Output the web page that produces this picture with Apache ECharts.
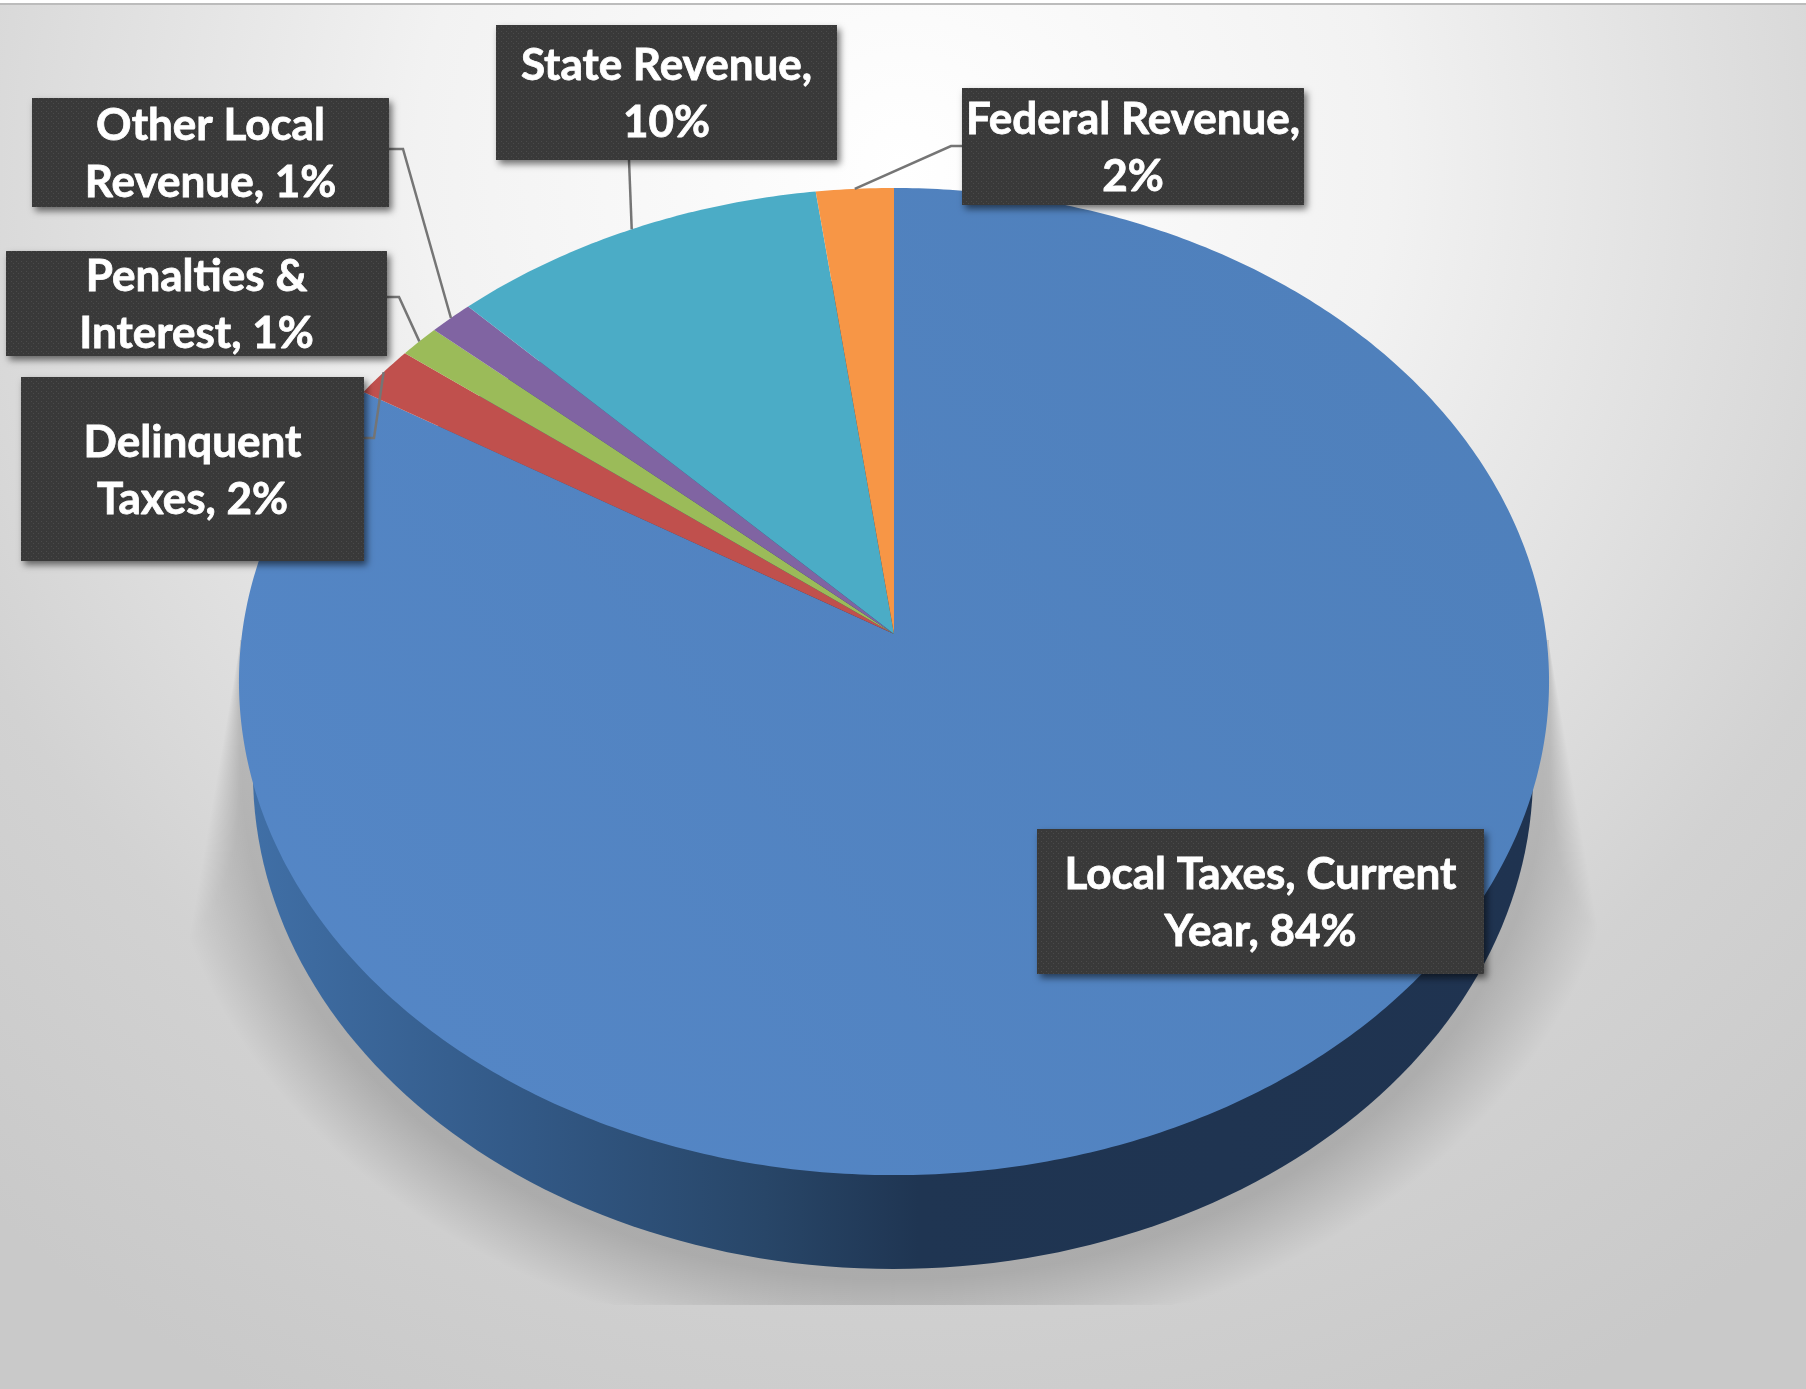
<!DOCTYPE html>
<html>
<head>
<meta charset="utf-8">
<title>Revenue by source</title>
<script src="https://cdn.jsdelivr.net/npm/echarts@6/dist/echarts.min.js"></script>
<style>
  html, body { margin: 0; padding: 0; background: #fff; }
  #chart { width: 1806px; height: 1389px; }
</style>
</head>
<body>
<div id="chart"></div>
<script>
// clockwise from 12 o'clock
const categories = ['Local Taxes, Current Year', 'Delinquent Taxes', 'Penalties & Interest', 'Other Local Revenue', 'State Revenue', 'Federal Revenue']
const shares = [83.7, 1.7, 1.1, 1.2, 10.2, 2.1]
const sliceColors = ['#5082c0', '#c0504d', '#9bbb59', '#8064a2', '#4bacc6', '#f79646']
const firstLineWords = [3, 1, 2, 2, 2, 2]

// label boxes [left, top, right, bottom], then leader elbows
const labelBoxes = [
  [1037, 829, 1484, 974],
  [21, 377, 364, 561],
  [6, 251, 387, 356],
  [32, 98, 389, 207],
  [496, 25, 837, 160],
  [962, 88, 1304, 205],
]
const leaderElbows = [
  null,
  [[364, 438], [374, 438]],
  [[387, 297], [399, 297]],
  [[389, 149], [403, 149]],
  [[629, 160]],
  [[962, 146], [951, 146]],
]

// perspective of the pie top: apex, half axes and tilt
const apexX = 894
const apexY = 634
const axisX = 652
const axisY = 489
const tilt = 0.0963
const total = shares.reduce((a, b) => a + b, 0)

function project(share) {
  const t = (share / total) * Math.PI * 2
  const d = 1 + tilt * Math.cos(t)
  return [apexX + (axisX * Math.sin(t)) / d, apexY - (axisY * Math.cos(t)) / d]
}

// going clockwise
function cumulativeBefore(i) {
  let c = 0
  for (let k = 0; k < i; k++) c += shares[k]
  return c
}

function slicePoints(from, to) {
  const pts = [[apexX, apexY]]
  const n = Math.max(4, Math.ceil((to - from) * 6))
  for (let j = 0; j <= n; j++) pts.push(project(from + ((to - from) * j) / n))
  return pts
}

function ellipsePoints(cx, cy, rx, ry, limit) {
  const pts = []
  for (let j = 0; j < 240; j++) {
    const t = (j / 240) * Math.PI * 2
    pts.push(limit([cx + rx * Math.cos(t), cy + ry * Math.sin(t)]))
  }
  return pts
}

// thickness of the pie: the lower rim, seen mostly under the top face
const rimX = 893
const rimY = 774
const rimRx = 640
const rimRy = 495
const floorEdge = 1305

function renderShadow() {
  const children = []
  const layers = 36
  for (let l = layers; l >= 0; l--) {
    const t = l / layers
    const d = 12 + t * 72
    const limit = (p) => {
      const drop = Math.max(0, p[1] - 640) * 0.17 * t
      const x = Math.min(Math.max(p[0], 240 - drop), 1549 + drop)
      return [x, Math.max(Math.min(p[1], floorEdge), 640)]
    }
    children.push({
      type: 'polygon',
      shape: { points: ellipsePoints(rimX, rimY, rimRx + d + 10 * t, rimRy + d, limit) },
      style: { fill: 'rgba(0,0,0,0.0056)' },
    })
  }
  return { type: 'group', children }
}

function renderSlice(params, api) {
  const i = params.dataIndex
  const from = cumulativeBefore(i)
  const to = from + api.value(1)
  const children = []
  if (i === 0) {
    children.push({
      type: 'polygon',
      shape: { points: ellipsePoints(rimX, rimY, rimRx, rimRy, (p) => p) },
      style: {
        fill: {
          type: 'linear', x: 0, y: 0, x2: 1, y2: 0,
          colorStops: [
            { offset: 0, color: '#406fa6' },
            { offset: 0.2, color: '#335a88' },
            { offset: 0.4, color: '#284668' },
            { offset: 0.52, color: '#1f3552' },
            { offset: 1, color: '#1f3350' },
          ],
        },
      },
    })
  }
  children.push({
    type: 'polygon',
    shape: { points: slicePoints(from, to) },
    style: {
      fill: i === 0
        ? {
            type: 'linear', x: 0, y: 1, x2: 1, y2: 0,
            colorStops: [
              { offset: 0, color: '#5587c7' },
              { offset: 1, color: '#4e7fba' },
            ],
          }
        : api.visual('color'),
    },
  })
  return { type: 'group', children }
}

function labelText(i) {
  const words = (categories[i] + ', ' + Math.round(shares[i]) + '%').split(' ')
  const n = firstLineWords[i]
  return words.slice(0, n).join(' ') + '\n' + words.slice(n).join(' ')
}

const dotTile = document.createElement('canvas')
dotTile.width = 5
dotTile.height = 5
const tileCtx = dotTile.getContext('2d')
tileCtx.fillStyle = '#393939'
tileCtx.fillRect(0, 0, 5, 5)
tileCtx.fillStyle = '#4a4a4a'
tileCtx.fillRect(1, 1, 1, 1)
tileCtx.fillRect(3, 3, 1, 1)

function renderLabel(params, api) {
  const i = params.dataIndex
  const box = labelBoxes[i]
  const children = []
  if (leaderElbows[i]) {
    const anchor = project(cumulativeBefore(i) + api.value(1) / 2)
    children.push({
      type: 'polyline',
      shape: { points: leaderElbows[i].concat([anchor]) },
      style: { fill: null, stroke: '#757575', lineWidth: 2.5 },
    })
  }
  children.push({
    type: 'rect',
    shape: { x: box[0], y: box[1], width: box[2] - box[0], height: box[3] - box[1] },
    style: {
      fill: { image: dotTile, repeat: 'repeat' },
      shadowBlur: 7,
      shadowColor: 'rgba(0,0,0,0.55)',
      shadowOffsetX: 3,
      shadowOffsetY: 4,
    },
  })
  children.push({
    type: 'text',
    style: {
      x: (box[0] + box[2]) / 2,
      y: (box[1] + box[3]) / 2 + 2,
      text: labelText(i),
      align: 'center',
      verticalAlign: 'middle',
      fill: '#fff',
      stroke: '#fff',
      lineWidth: 0.8,
      fontFamily: 'Lato, "Open Sans", sans-serif',
      fontWeight: 700,
      fontSize: 44,
      lineHeight: 57,
    },
  })
  return { type: 'group', children }
}

const seriesData = categories.map((name, i) => ({ name, value: [i, shares[i]], itemStyle: { color: sliceColors[i] } }))

const chart = echarts.init(document.getElementById('chart'))
chart.setOption({
  animation: false,
  backgroundColor: {
    type: 'radial', x: 0.5, y: 0.12, r: 1,
    colorStops: [
      { offset: 0, color: '#ffffff' },
      { offset: 0.35, color: '#f2f2f2' },
      { offset: 0.6, color: '#dedede' },
      { offset: 0.75, color: '#d2d2d2' },
      { offset: 1, color: '#c9c9c9' },
    ],
  },
  graphic: [
    { type: 'rect', z: 100, shape: { x: 0, y: 0, width: 1806, height: 3 }, style: { fill: '#ffffff' } },
    { type: 'rect', z: 100, shape: { x: 0, y: 3, width: 1806, height: 2 }, style: { fill: '#bcbcbc' } },
  ],
  series: [
    { type: 'custom', coordinateSystem: 'none', silent: true, z: 1, data: [[0]], renderItem: renderShadow },
    { type: 'custom', coordinateSystem: 'none', silent: true, z: 2, data: seriesData, renderItem: renderSlice },
    { type: 'custom', coordinateSystem: 'none', silent: true, z: 3, data: seriesData, renderItem: renderLabel },
  ],
})
</script>
</body>
</html>
